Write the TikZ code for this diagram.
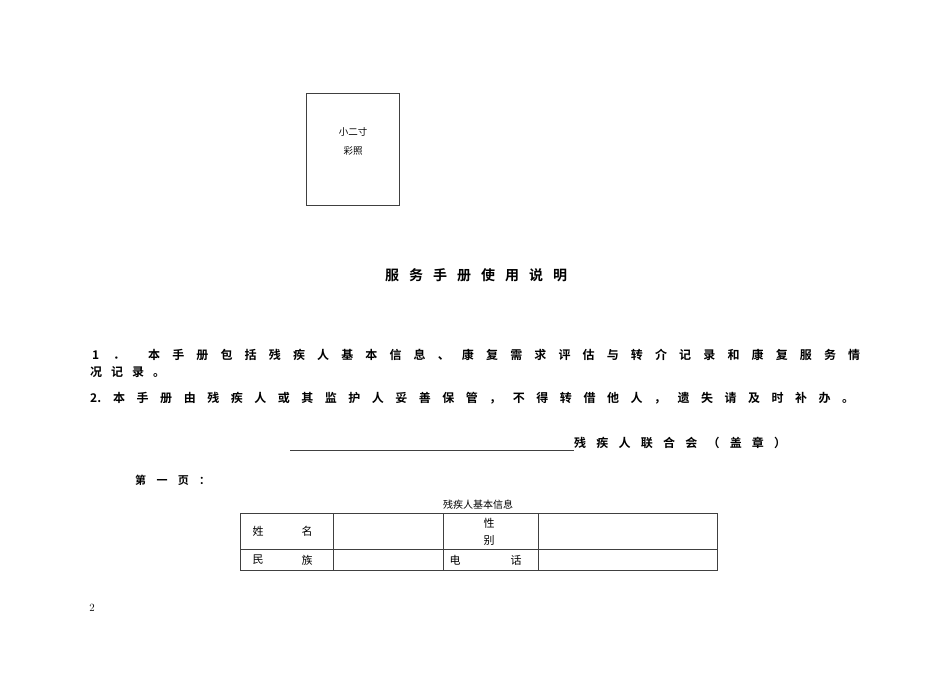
\documentclass[tikz,border=0pt]{standalone}
\usepackage{fontspec}
\newfontfamily\cjk{Noto Sans CJK SC}
\newfontfamily\cjkb{Noto Sans CJK SC Bold}
\makeatletter
\def\spreadloop#1{\ifx#1\relax\else#1\hfill\expandafter\spreadloop\fi}
\newcommand\spreadto[2]{\hbox to #1{\spreadloop#2\relax\unskip}}
\makeatother
\tikzset{bt/.style={inner sep=0pt,anchor=west,font=\cjkb\fontsize{12}{14}\selectfont},
 rt/.style={inner sep=0pt,font=\cjk\fontsize{11}{13}\selectfont},
 ln/.style={line width=0.6pt,draw=black!75}}
\begin{document}
\begin{tikzpicture}[x=1pt,y=-1pt]
\useasboundingbox (0,0) rectangle (950,672);
\node[ln,draw,minimum width=93pt,minimum height=112pt,inner sep=0pt] (photo) at (352.5,149) {};
\node[rt,font=\cjk\fontsize{9.5}{11}\selectfont] (p1) at (353,132) {小二寸};
\node[rt,font=\cjk\fontsize{9.5}{11}\selectfont] (p2) at (353,151) {彩照};
\node[bt,font=\cjkb\fontsize{14}{16}\selectfont] (title) at (385,275) {\spreadto{182pt}{服务手册使用说明}};
\node[bt] (n1) at (92,355) {\spreadto{33pt}{1．}};
\node[bt] (l1) at (148,355) {\spreadto{712pt}{本手册包括残疾人基本信息、康复需求评估与转介记录和康复服务情}};
\node[bt] (l1b) at (90,372) {\spreadto{75pt}{况记录。}};
\node[bt] (n2) at (90,398) {2.};
\node[bt] (l2) at (113,398) {\spreadto{741pt}{本手册由残疾人或其监护人妥善保管，不得转借他人，遗失请及时补办。}};
\coordinate (s0) at (290,450);
\node[bt] (sig) at (574,443) {\spreadto{212pt}{残疾人联合会（盖章）}};
\draw[ln] (s0) -- (sig.west |- s0);
\node[bt,font=\cjkb\fontsize{11}{13}\selectfont] (pg) at (135,480) {\spreadto{75pt}{第一页：}};
\node[rt,font=\cjk\fontsize{10}{12}\selectfont] (cap) at (478,505) {残疾人基本信息};
\draw[ln] (240,513) rectangle (717,570);
\draw[ln] (240,549) -- (717,549);
\foreach \x in {333,443,538} \draw[ln] (\x,513) -- (\x,570);
\node[rt] (a1) at (258,531) {姓};
\node[rt] (a2) at (307,531) {名};
\node[rt] (b1) at (258,560) {民};
\node[rt] (b2) at (307,560) {族};
\node[rt] (c1) at (489,523) {性};
\node[rt] (c2) at (489,540) {别};
\node[rt] (d1) at (455,560) {电};
\node[rt] (d2) at (516,560) {话};
\node[inner sep=0pt,font=\fontsize{11}{13}\selectfont] (num) at (92,608) {2};
\end{tikzpicture}
\end{document}
